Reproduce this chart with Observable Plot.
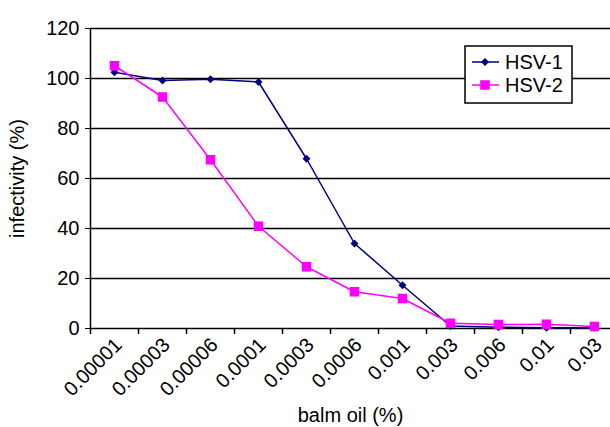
<!DOCTYPE html>
<html>
<head>
<meta charset="utf-8">
<script src="https://cdn.jsdelivr.net/npm/d3@7"></script>
<script src="https://cdn.jsdelivr.net/npm/@observablehq/plot@0.6"></script>
<style>
  body { margin: 0; background: white; }
  #wrap { position: relative; width: 610px; height: 427px; }
  #legend { position: absolute; left: 462px; top: 44px; }
</style>
</head>
<body>
<div id="wrap"></div>
<script>
const concentrations = ["0.00001","0.00003","0.00006","0.0001","0.0003","0.0006","0.001","0.003","0.006","0.01","0.03"];
const hsv1 = [102.5, 99.2, 99.7, 98.6, 67.9, 34.0, 17.3, 1.0, 0.5, 0.3, 0.3];
const hsv2 = [105.1, 92.6, 67.5, 40.9, 24.7, 14.7, 12.0, 2.1, 1.6, 1.7, 0.8];
const yTicks = [0, 20, 40, 60, 80, 100, 120];
const seriesNames = ["HSV-1", "HSV-2"];
const colors = {"HSV-1": "#000080", "HSV-2": "#ff00ff"};

const rows1 = concentrations.map((c, i) => ({conc: c, pos: i + 0.5, value: hsv1[i]}));
const rows2 = concentrations.map((c, i) => ({conc: c, pos: i + 0.5, value: hsv2[i]}));

const chart = Plot.plot({
  width: 610,
  height: 427,
  marginLeft: 90,
  marginRight: 0,
  marginTop: 28,
  marginBottom: 99,
  style: {fontFamily: "'Liberation Sans', Arial, sans-serif", fontSize: "20px", color: "#000", background: "white", overflow: "visible"},
  x: {type: "linear", domain: [0, concentrations.length], range: [90, 618]},
  y: {domain: [0, 120]},
  marks: [
    Plot.ruleY(yTicks, {stroke: "#000", strokeWidth: 1.5}),
    Plot.ruleX([0], {stroke: "#000", strokeWidth: 1.5}),
    Plot.axisY({ticks: yTicks, tickSize: 5, tickPadding: 6, fontSize: 20, label: "infectivity (%)", labelAnchor: "center", labelArrow: "none", labelOffset: 81}),
    Plot.axisX({ticks: d3.range(0, concentrations.length + 1), tickSize: 6, tickFormat: () => "", label: null, strokeWidth: 1.5}),
    Plot.axisX({ticks: concentrations.map((_, i) => i + 0.5), tickSize: 0, tickPadding: 13, tickRotate: -45, fontSize: 20, dx: 4,
      tickFormat: d => concentrations[Math.round(d - 0.5)],
      label: "balm oil (%)", labelAnchor: "center", labelArrow: "none", labelOffset: 93}),
    Plot.line(rows1, {x: "pos", y: "value", stroke: colors["HSV-1"], strokeWidth: 1.5}),
    Plot.dot(rows1, {x: "pos", y: "value", symbol: "diamond2", r: 3.6, fill: colors["HSV-1"], stroke: "none"}),
    Plot.line(rows2, {x: "pos", y: "value", stroke: colors["HSV-2"], strokeWidth: 1.5}),
    Plot.dot(rows2, {x: "pos", y: "value", symbol: "square", r: 5.4, fill: colors["HSV-2"], stroke: "none"})
  ]
});
document.getElementById("wrap").appendChild(chart);

// Legend
const lg = d3.select("#wrap").append("svg").attr("id", "legend").attr("width", 115).attr("height", 62)
  .style("font-family", "'Liberation Sans', Arial, sans-serif");
lg.append("rect").attr("x", 3).attr("y", 2).attr("width", 107).attr("height", 57)
  .attr("fill", "white").attr("stroke", "#000").attr("stroke-width", 1.5);
seriesNames.forEach((name, i) => {
  const yy = 18 + i * 23;
  lg.append("line").attr("x1", 10).attr("x2", 37).attr("y1", yy).attr("y2", yy)
    .attr("stroke", colors[name]).attr("stroke-width", 1.5);
  lg.append("path").attr("transform", `translate(23,${yy})`)
    .attr("d", d3.symbol(i === 0 ? d3.symbolDiamond2 : d3.symbolSquare, i === 0 ? 3.6 * 3.6 * Math.PI : 5.4 * 5.4 * Math.PI)())
    .attr("fill", colors[name]);
  lg.append("text").attr("x", 43).attr("y", yy).attr("dy", "0.36em").attr("font-size", 20).attr("fill", "#000").text(name);
});
</script>
</body>
</html>
